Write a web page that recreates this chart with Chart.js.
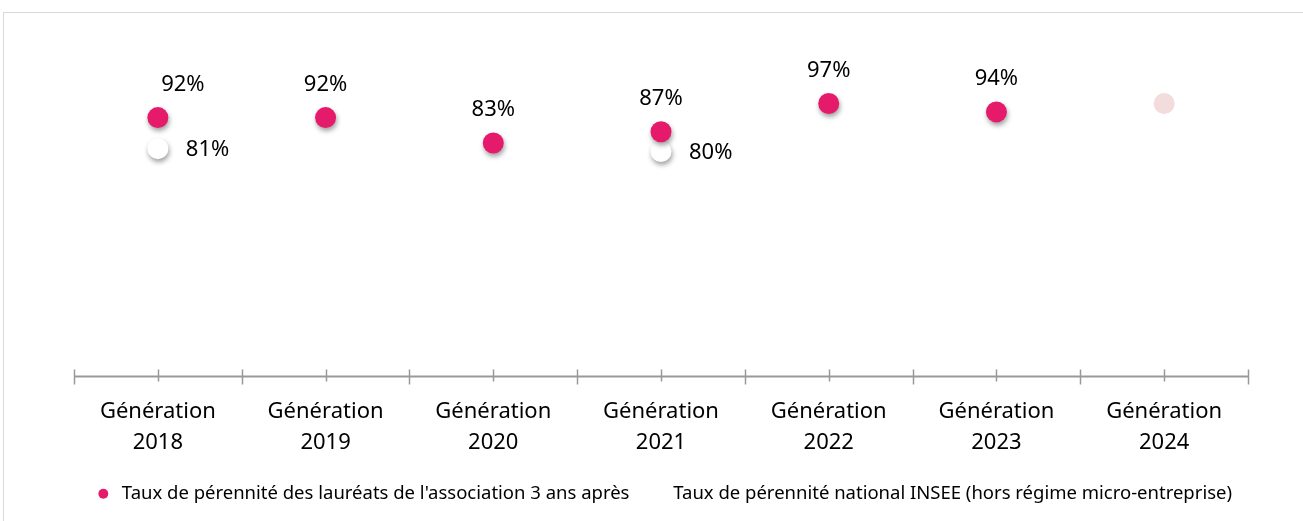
<!DOCTYPE html>
<html>
<head>
<meta charset="utf-8">
<script src="https://cdn.jsdelivr.net/npm/chart.js@4"></script>
<style>
  html, body { margin: 0; padding: 0; background: #fff; overflow: hidden; }
  #wrap { position: relative; width: 1303px; height: 521px; }
  #frame { position: absolute; left: 3px; top: 12px; width: 1310px; height: 520px; border: 1px solid #d9d9d9; }
  canvas { position: absolute; left: 0; top: 0; }
</style>
</head>
<body>
<div id="wrap">
  <div id="frame"></div>
  <canvas id="chart" width="1303" height="521"></canvas>
</div>
<script>
const categories = [
  ['Génération', '2018'], ['Génération', '2019'], ['Génération', '2020'],
  ['Génération', '2021'], ['Génération', '2022'], ['Génération', '2023'],
  ['Génération', '2024']
];
const laureats = [92, 92, 83, 87, 97, 94, null];
const insee = [81, null, null, 80, null, null, null];
const pending2024 = [null, null, null, null, null, null, 97];
const seriesNames = [
  "Taux de pérennité des lauréats de l'association 3 ans après",
  "Taux de pérennité national INSEE (hors régime micro-entreprise)"
];

const PINK = '#E61A6A';
const FONT = "'Noto Sans', 'Open Sans', sans-serif";

// drop shadow under the points of the two main series
const shadowPlugin = {
  id: 'shadow',
  beforeDatasetDraw(chart, args) {
    if (args.index > 1) return;
    const ctx = chart.ctx;
    ctx.save();
    ctx.shadowColor = 'rgba(0,0,0,0.38)';
    ctx.shadowBlur = 5;
    ctx.shadowOffsetX = 1;
    ctx.shadowOffsetY = 3;
  },
  afterDatasetDraw(chart, args) {
    if (args.index > 1) return;
    chart.ctx.restore();
  }
};

// value labels
const labelPlugin = {
  id: 'valueLabels',
  afterDatasetsDraw(chart) {
    const ctx = chart.ctx;
    ctx.save();
    ctx.font = '22px ' + FONT;
    ctx.fillStyle = '#000';
    ctx.textBaseline = 'middle';
    ctx.textAlign = 'center';
    const shiftX = [25, 0, 0, 0, 0, 0, 0];
    chart.getDatasetMeta(0).data.forEach((pt, i) => {
      const v = laureats[i];
      if (v == null) return;
      ctx.fillText(v + '%', pt.x + shiftX[i], pt.y - 33);
    });
    ctx.textAlign = 'left';
    chart.getDatasetMeta(1).data.forEach((pt, i) => {
      const v = insee[i];
      if (v == null) return;
      ctx.fillText(v + '%', pt.x + 28, pt.y + 1);
    });
    ctx.restore();
  }
};

// horizontal axis line with boundary and centre ticks
const axisPlugin = {
  id: 'axisLine',
  afterDraw(chart) {
    const ctx = chart.ctx;
    const x = chart.scales.x;
    const y0 = chart.chartArea.bottom - 1;
    const n = categories.length;
    const step = x.getPixelForValue(1) - x.getPixelForValue(0);
    ctx.save();
    ctx.strokeStyle = '#999999';
    ctx.lineWidth = 2;
    ctx.beginPath();
    ctx.moveTo(x.getPixelForValue(0) - step / 2, y0);
    ctx.lineTo(x.getPixelForValue(n - 1) + step / 2, y0);
    ctx.stroke();
    ctx.lineWidth = 1.5;
    for (let i = 0; i <= n; i++) {
      const px = Math.round(x.getPixelForValue(i) - step / 2) + 0.5;
      ctx.beginPath();
      ctx.moveTo(px, y0 - 7);
      ctx.lineTo(px, y0 + 8);
      ctx.stroke();
    }
    for (let i = 0; i < n; i++) {
      const px = Math.round(x.getPixelForValue(i)) + 0.5;
      ctx.beginPath();
      ctx.moveTo(px, y0 - 7);
      ctx.lineTo(px, y0 + 5);
      ctx.stroke();
    }
    ctx.restore();
  }
};

new Chart(document.getElementById('chart').getContext('2d'), {
  type: 'line',
  data: {
    labels: categories,
    datasets: [
      {
        label: seriesNames[0],
        data: laureats,
        showLine: false,
        pointRadius: 10.5,
        pointHoverRadius: 10.5,
        pointBackgroundColor: PINK,
        pointBorderWidth: 0,
        backgroundColor: PINK,
        borderColor: PINK,
        clip: false
      },
      {
        label: seriesNames[1],
        data: insee,
        showLine: false,
        pointRadius: 10.5,
        pointHoverRadius: 10.5,
        pointBackgroundColor: '#ffffff',
        pointBorderWidth: 0,
        backgroundColor: '#ffffff',
        borderColor: '#ffffff',
        clip: false
      },
      {
        label: '2024',
        data: pending2024,
        showLine: false,
        pointRadius: 10.5,
        pointHoverRadius: 10.5,
        pointBackgroundColor: '#F2DCDC',
        pointBorderWidth: 0,
        clip: false
      }
    ]
  },
  options: {
    responsive: false,
    animation: false,
    layout: { padding: { top: 95, left: 4, right: 55, bottom: 8 } },
    plugins: {
      tooltip: { enabled: false },
      legend: {
        position: 'bottom',
        align: 'end',
        labels: {
          usePointStyle: true,
          pointStyle: 'circle',
          boxWidth: 19,
          boxHeight: 7,
          padding: 16,
          color: '#000',
          font: { family: FONT, size: 18.5 },
          generateLabels(chart) {
            return chart.data.datasets.slice(0, 2).map((ds, i) => ({
              text: ds.label,
              fillStyle: i === 0 ? PINK : '#ffffff',
              strokeStyle: i === 0 ? PINK : '#ffffff',
              lineWidth: 0,
              pointStyle: 'circle',
              datasetIndex: i,
              fontColor: '#000'
            }));
          }
        }
      }
    },
    scales: {
      x: {
        offset: true,
        grid: { display: false },
        border: { display: false },
        ticks: {
          color: '#000',
          padding: 11,
          maxRotation: 0,
          autoSkip: false,
          font: { family: FONT, size: 22, lineHeight: 1.4 }
        },
        afterFit(scale) { scale.height = 91; }
      },
      y: {
        min: 0,
        max: 100,
        grid: { display: false },
        border: { display: false },
        ticks: { display: false },
        afterFit(scale) { scale.width = 70; }
      }
    }
  },
  plugins: [shadowPlugin, labelPlugin, axisPlugin]
});
</script>
</body>
</html>
